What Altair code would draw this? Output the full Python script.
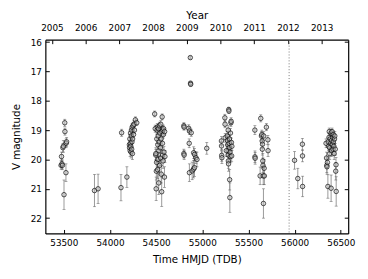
import altair as alt
import pandas as pd

# Observations: time (HMJD), V magnitude, 1-sigma error
mjd = [
    53470, 53475, 53480, 53485, 53490, 53495, 53502, 53523, 53510, 53512, 53525, 53530,
    53832, 53871,
    54119, 54126, 54183,
    54210, 54212, 54215, 54218, 54220, 54222, 54225, 54228, 54230, 54232, 54235, 54238,
    54240, 54243, 54245, 54250, 54255, 54260, 54265, 54275, 54290,
    54484, 54490, 54495, 54497, 54500, 54502, 54505, 54507, 54510, 54512, 54515, 54518,
    54520, 54522, 54525, 54528, 54530, 54533, 54535, 54538, 54540, 54545, 54548, 54550,
    54553, 54555, 54560, 54562, 54565, 54568, 54570, 54573, 54575, 54578, 54580, 54585,
    54590, 54592, 54595,
    54800, 54802, 54800, 54803, 54853, 54860, 54858, 54870, 54872, 54874, 54880, 54906,
    54915, 54931, 54942, 54860, 54890, 54905, 54915, 55048,
    55207, 55208, 55210, 55212, 55244, 55246, 55248, 55270, 55272, 55275, 55278, 55280,
    55282, 55284, 55286, 55288, 55290, 55292, 55294, 55296, 55298, 55300, 55302, 55305,
    55310, 55312, 55315, 55318, 55320, 55280, 55260,
    55569, 55570, 55572, 55626, 55633, 55640, 55645, 55648, 55650, 55652, 55655, 55657,
    55660, 55662, 55665, 55670, 55672, 55694, 55710, 55712,
    55999, 56034, 56084, 56085, 56086,
    56340, 56345, 56348, 56350, 56355, 56360, 56365, 56368, 56372, 56375, 56378, 56380,
    56385, 56392, 56395, 56395, 56398, 56400, 56405, 56408, 56412, 56415, 56418, 56420,
    56425, 56428, 56432, 56435, 56440, 56445, 56448, 56450,
]
mag = [
    20.2, 19.9, 20.15, 20.2, 19.6, 19.55, 21.2, 20.45, 18.75, 19.05, 19.45, 19.4,
    21.06, 21.0,
    20.96, 19.09, 20.6,
    19.5, 19.6, 19.3, 19.7, 19.45, 19.1, 19.55, 19.75, 19.2, 19.0, 19.65, 19.4,
    18.9, 19.8, 19.3, 18.85, 19.15, 18.8, 19.0, 18.65, 18.75,
    18.45, 18.95, 19.85, 19.8, 21.0, 20.4, 20.1, 19.3, 19.0, 18.9, 20.35, 19.5,
    20.0, 19.2, 18.95, 20.8, 19.7, 19.4, 18.85, 20.2, 19.1, 19.6, 19.95, 18.8,
    19.3, 20.5, 21.1, 19.05, 18.55, 19.45, 19.85, 19.0, 20.05, 19.15, 18.95, 19.75,
    20.6, 19.05, 19.9,
    18.85, 18.9, 19.8, 19.85, 18.94, 19.03, 19.45, 16.53, 17.4, 17.44, 19.09, 19.77,
    19.83, 19.94, 20.0, 20.45, 20.39, 20.33, 20.28, 19.62,
    19.37, 19.54, 19.86, 19.94, 18.58, 18.8, 19.26, 19.2, 19.35, 19.5, 19.7, 19.85,
    20.05, 20.15, 18.3, 18.35, 19.45, 19.6, 19.3, 20.69, 21.3, 19.75, 19.9, 19.1,
    18.75, 18.7, 19.42, 19.88, 19.55, 19.0, 19.7,
    19.0, 19.91, 19.96, 20.56, 18.6, 19.2, 19.15, 19.37, 19.65, 19.48, 20.05, 20.2,
    20.56, 21.5, 19.2, 20.3, 20.56, 18.9, 19.33, 19.7,
    20.03, 20.65, 19.48, 19.88, 20.92,
    19.45, 19.95, 20.2, 20.25, 20.1, 20.92, 19.4, 19.55, 19.25, 19.05, 19.6, 19.8,
    19.3, 19.45, 20.98, 19.1, 19.7, 19.35, 19.05, 19.5, 19.25, 19.65, 19.15, 19.4,
    19.55, 19.8, 19.3, 19.2, 19.65, 20.4, 20.18, 21.09,
]
err = [
    0.15, 0.15, 0.15, 0.15, 0.15, 0.2, 0.5, 0.3, 0.12, 0.12, 0.15, 0.15,
    0.55, 0.5,
    0.45, 0.12, 0.35,
    0.15, 0.15, 0.15, 0.2, 0.15, 0.12, 0.15, 0.2, 0.15, 0.12, 0.15, 0.15,
    0.12, 0.2, 0.15, 0.12, 0.12, 0.12, 0.12, 0.1, 0.1,
    0.1, 0.12, 0.2, 0.2, 0.4, 0.3, 0.25, 0.15, 0.12, 0.12, 0.3, 0.15,
    0.25, 0.15, 0.12, 0.4, 0.2, 0.15, 0.12, 0.3, 0.15, 0.2, 0.25, 0.12,
    0.15, 0.3, 0.5, 0.12, 0.1, 0.15, 0.2, 0.12, 0.25, 0.12, 0.12, 0.2,
    0.35, 0.12, 0.2,
    0.1, 0.1, 0.15, 0.15, 0.12, 0.12, 0.15, 0.05, 0.06, 0.06, 0.12, 0.2,
    0.2, 0.2, 0.25, 0.3, 0.3, 0.3, 0.3, 0.2,
    0.15, 0.15, 0.2, 0.2, 0.12, 0.12, 0.15, 0.15, 0.15, 0.2, 0.2, 0.2,
    0.25, 0.25, 0.08, 0.08, 0.15, 0.2, 0.15, 0.35, 0.5, 0.2, 0.2, 0.15,
    0.12, 0.12, 0.15, 0.2, 0.15, 0.15, 0.2,
    0.15, 0.2, 0.2, 0.3, 0.12, 0.15, 0.15, 0.15, 0.2, 0.15, 0.25, 0.25,
    0.3, 0.5, 0.15, 0.3, 0.3, 0.12, 0.15, 0.2,
    0.3, 0.35, 0.2, 0.2, 0.35,
    0.15, 0.2, 0.25, 0.25, 0.2, 0.4, 0.15, 0.15, 0.15, 0.12, 0.15, 0.2,
    0.15, 0.15, 0.45, 0.12, 0.2, 0.15, 0.12, 0.15, 0.15, 0.2, 0.12, 0.15,
    0.15, 0.2, 0.15, 0.15, 0.2, 0.3, 0.25, 0.5,
]

# Top axis: January 1st of each year, in MJD
year_mjd = [53371, 53736, 54101, 54466, 54832, 55197, 55562, 55927, 56293]
mag_ticks = [16, 17, 18, 19, 20, 21, 22]
x_ticks = [53500, 54000, 54500, 55000, 55500, 56000, 56500]
vline_mjd = [55940]

df = pd.DataFrame({"mjd": mjd, "mag": mag, "err": err})
df["lo"] = df["mag"] - df["err"]
df["hi"] = df["mag"] + df["err"]

W, H = 308, 197
FONT = "DejaVu Sans"
xscale = alt.Scale(domain=[53300, 56580], nice=False, zero=False)
yscale = alt.Scale(domain=[15.92, 22.52], reverse=True, nice=False, zero=False)

common_ax = dict(labelFont=FONT, titleFont=FONT, labelFontSize=9, titleFontSize=10.5,
                 titleFontWeight="normal", labelColor="black", titleColor="black",
                 grid=False, domainColor="black", tickColor="black")

# Error bars, with labeled bottom/left axes (no ticks)
bars = alt.Chart(df).mark_rule(color="#999999", strokeWidth=1).encode(
    x=alt.X("mjd:Q", scale=xscale,
            axis=alt.Axis(orient="bottom", values=x_ticks, format="d", ticks=False,
                          title="Time HMJD (TDB)", labelPadding=5, titlePadding=8,
                          domainWidth=1.2, **common_ax)),
    y=alt.Y("lo:Q", scale=yscale,
            axis=alt.Axis(orient="left", values=mag_ticks, format="d", ticks=False,
                          title="V magnitude", labelPadding=4, titlePadding=9,
                          domainWidth=1.2, **common_ax)),
    y2="hi:Q",
)

caps_lo = alt.Chart(df).mark_tick(color="#555555", size=3, thickness=0.7, orient="horizontal").encode(
    x=alt.X("mjd:Q", scale=xscale, axis=None),
    y=alt.Y("lo:Q", scale=yscale, axis=None),
)
caps_hi = alt.Chart(df).mark_tick(color="#555555", size=3, thickness=0.7, orient="horizontal").encode(
    x=alt.X("mjd:Q", scale=xscale, axis=None),
    y=alt.Y("hi:Q", scale=yscale, axis=None),
)

# Points, with inward ticks on bottom/left
points = alt.Chart(df).mark_point(shape="circle", size=21, filled=False,
                                  fill="#c0c0c0", fillOpacity=0.5,
                                  stroke="black", strokeWidth=0.65, opacity=1).encode(
    x=alt.X("mjd:Q", scale=xscale,
            axis=alt.Axis(orient="bottom", values=x_ticks, labels=False, domain=False,
                          title=None, tickSize=4, offset=-4, **common_ax)),
    y=alt.Y("mag:Q", scale=yscale,
            axis=alt.Axis(orient="left", values=mag_ticks, labels=False, domain=False,
                          title=None, tickSize=4, offset=-4, **common_ax)),
)

# Dotted line, with top (year) labels
vdf = pd.DataFrame({"mjd": vline_mjd})
vline = alt.Chart(vdf).mark_rule(color="#777777", strokeDash=[1, 2], strokeWidth=1).encode(
    x=alt.X("mjd:Q", scale=xscale,
            axis=alt.Axis(orient="top", values=year_mjd, ticks=False, title="Year",
                          labelExpr="2005 + round((datum.value - 53371) / 365.25)",
                          labelPadding=7, titlePadding=4, domainWidth=1.2, **common_ax)),
    y=alt.value(0),
    y2=alt.value(H),
)

# Inward ticks on top, right domain
tdf = pd.DataFrame({"mjd": [year_mjd[0]], "mag": [mag_ticks[0]]})
edge = alt.Chart(tdf).mark_point(opacity=0).encode(
    x=alt.X("mjd:Q", scale=xscale,
            axis=alt.Axis(orient="top", values=year_mjd, labels=False, domain=False,
                          title=None, tickSize=4, offset=-4, **common_ax)),
    y=alt.Y("mag:Q", scale=yscale,
            axis=alt.Axis(orient="right", values=mag_ticks, labels=False, domain=True,
                          title=None, ticks=False, domainWidth=1.2, **common_ax)),
)
edge2 = alt.Chart(tdf).mark_point(opacity=0).encode(
    x=alt.X("mjd:Q", scale=xscale, axis=None),
    y=alt.Y("mag:Q", scale=yscale,
            axis=alt.Axis(orient="right", values=mag_ticks, labels=False, domain=False,
                          title=None, tickSize=4, offset=-4, **common_ax)),
)

chart = alt.layer(bars, caps_lo, caps_hi, points, vline, edge, edge2).resolve_scale(
    x="shared", y="shared"
).resolve_axis(x="independent", y="independent").properties(
    width=W, height=H, padding={"left": 3, "top": 0, "right": 5, "bottom": 5}
).configure_view(stroke=None)

chart.save("out.html", embed_options={"renderer": "svg", "actions": False})
